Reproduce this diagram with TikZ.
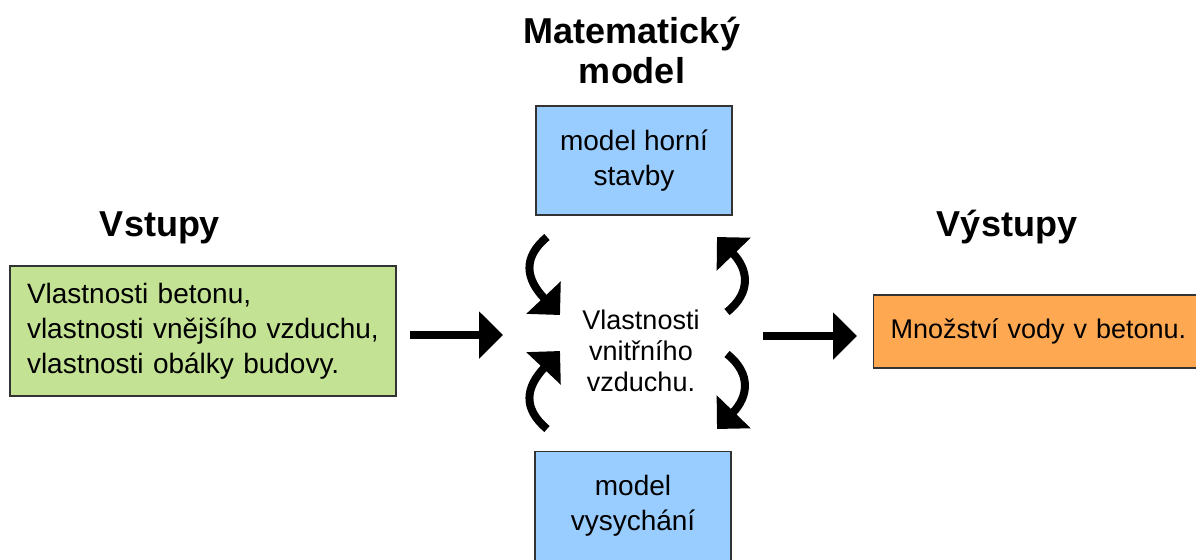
\documentclass[tikz,border=0pt]{standalone}
\usepackage{fontspec}
\setmainfont{Liberation Sans}
\usetikzlibrary{arrows.meta}
\definecolor{boxgreen}{RGB}{195,226,148}
\definecolor{boxblue}{RGB}{153,204,255}
\definecolor{boxorange}{RGB}{255,168,82}
\definecolor{boxedge}{RGB}{51,51,51}
\tikzset{
  box/.style={draw=boxedge, line width=0.6pt, inner sep=0pt},
  boxtext/.style={font=\fontsize{14pt}{17.5pt}\selectfont},
  title/.style={font=\fontsize{18pt}{20pt}\selectfont\bfseries, align=center},
  bigarr/.style={line width=4pt, -{Triangle[length=12pt,width=23pt]}},
}
\begin{document}
\begin{tikzpicture}[x=0.5pt,y=-0.5pt]
\useasboundingbox (0,0) rectangle (1196,559);
% titles
\node[title, anchor=base] (tin) at (160,236) {Vstupy};
\node[title, anchor=base] (tout) at (1007,236) {Výstupy};
\node[title, anchor=base] (tmod1) at (632,43) {Matematický};
\node[title, anchor=base] (tmod2) at (632,83) {model};
% boxes
\node[box, fill=boxgreen, boxtext, minimum width=193pt, minimum height=65pt,
      text width=176pt, align=left] (in) at (203,331)
  {Vlastnosti betonu,\\vlastnosti vnějšího vzduchu,\\vlastnosti obálky budovy.};
\node[box, fill=boxblue, boxtext, minimum width=98pt, minimum height=54.5pt,
      align=center] (top) at (634,160.5) {model horní\\stavby};
\node[box, fill=boxblue, boxtext, minimum width=98pt, minimum height=54.5pt,
      align=center] (bot) at (633,506) {model\\vysychání};
\node[box, fill=boxorange, anchor=west, minimum height=36.5pt, inner xsep=8.5pt,
      text width=165pt, align=left,
      font=\fontsize{13.5pt}{16pt}\selectfont] (out) at (873,331.5)
  {Množství vody v betonu.};
% middle text
\node[align=center, font=\fontsize{13.5pt}{15.5pt}\selectfont] (mid) at (641,351)
  {Vlastnosti\\vnitřního\\vzduchu.};
% straight arrows
\coordinate (a1) at (410,335);
\coordinate (a2) at (503,335);
\coordinate (b1) at (763,336);
\coordinate (b2) at (857,336);
\draw[bigarr] (a1) -- (a2);
\draw[bigarr] (b1) -- (b2);
% curved arrows
\coordinate (ul1) at (547,237);
\coordinate (ul2) at (560,315);
\coordinate (ll1) at (547,429);
\coordinate (ll2) at (560,351);
\coordinate (ur1) at (727,312);
\coordinate (ur2) at (717,237);
\coordinate (lr1) at (727,354);
\coordinate (lr2) at (717,429);
\draw[bigarr] (ul1) .. controls (522,258) and (526,279) .. (ul2);
\draw[bigarr] (ll1) .. controls (522,408) and (526,387) .. (ll2);
\draw[bigarr] (ur1) .. controls (752,292) and (748,269) .. (ur2);
\draw[bigarr] (lr1) .. controls (752,374) and (748,397) .. (lr2);
\end{tikzpicture}
\end{document}
